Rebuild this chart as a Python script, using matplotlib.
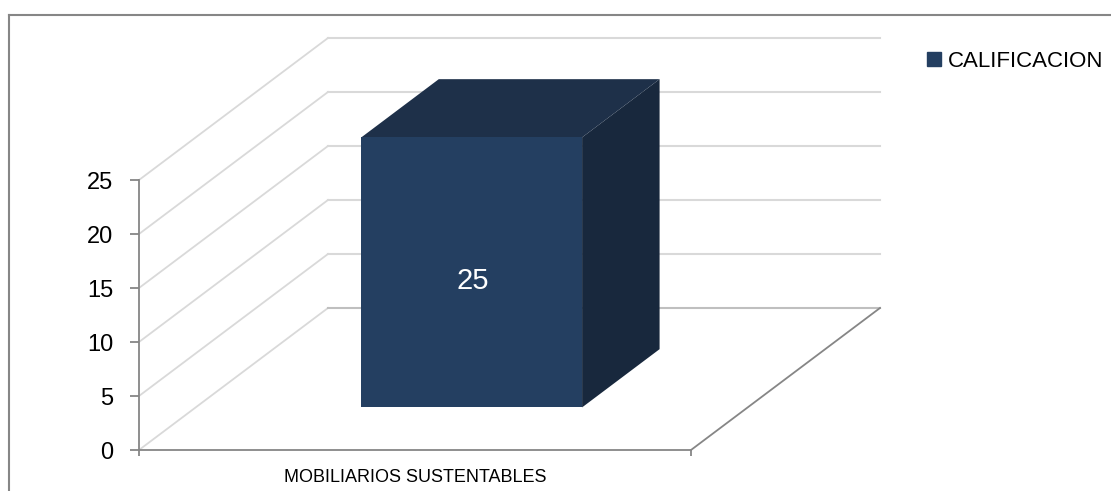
import matplotlib
matplotlib.use('Agg')
import matplotlib.pyplot as plt
from matplotlib.patches import Polygon, Patch
from matplotlib.lines import Line2D

# data
categories = ['MOBILIARIOS SUSTENTABLES']
series_name = 'CALIFICACION'
values = [25]
yticks = [0, 5, 10, 15, 20, 25]

plt.rcParams['font.family'] = ['Liberation Sans', 'DejaVu Sans']

# colours
c_front = '#243f61'
c_top = '#1e3049'
c_side = '#18283d'
c_grid = '#d9d9d9'
c_axis = '#868686'

# oblique depth offset (category units, value units)
DX, DY = 0.3424, 13.15
bar_d0, bar_d1 = 0.30, 0.71   # bar front/back depth fraction
bar_w = 0.4

fig = plt.figure(figsize=(11.11, 4.91), dpi=100)
ax = fig.add_axes([0, 0, 1, 1])
ax.set_xlim(-0.2518, 1.7609)
ax.set_ylim(-3.796, 41.667)

def P(x, v, d):
    return (x + d * DX, v + d * DY)

# back wall + side wall gridlines
top = max(yticks)
for v in yticks:
    col = c_grid if v > 0 else '#bfbfbf'
    ax.plot(*zip(P(0, v, 0), P(0, v, 1)), color=c_grid, lw=1.3, zorder=1)
    ax.plot(*zip(P(0, v, 1), P(1, v, 1)), color=col, lw=1.5, zorder=1)
# floor right edge
ax.plot(*zip(P(1, 0, 0), P(1, 0, 1)), color=c_axis, lw=1.3, zorder=1)

# bar
for i, val in enumerate(values):
    xc = i + 0.5
    x0, x1 = xc - bar_w / 2, xc + bar_w / 2
    front = [P(x0, 0, bar_d0), P(x1, 0, bar_d0), P(x1, val, bar_d0), P(x0, val, bar_d0)]
    side = [P(x1, 0, bar_d0), P(x1, 0, bar_d1), P(x1, val, bar_d1), P(x1, val, bar_d0)]
    topf = [P(x0, val, bar_d0), P(x1, val, bar_d0), P(x1, val, bar_d1), P(x0, val, bar_d1)]
    ax.add_patch(Polygon(side, closed=True, fc=c_side, ec='none', zorder=3))
    ax.add_patch(Polygon(topf, closed=True, fc=c_top, ec='none', zorder=3))
    ax.add_patch(Polygon(front, closed=True, fc=c_front, ec='none', zorder=4))
    lx, ly = P(xc, val / 2, bar_d0)
    ax.annotate(str(val), (lx, ly), xytext=(1, -6), textcoords='offset points',
                ha='center', va='center', color='white', fontsize=21, zorder=5)

# axes
for s in ['top', 'right']:
    ax.spines[s].set_visible(False)
ax.patch.set_visible(False)
ax.spines['left'].set_position(('data', 0))
ax.spines['bottom'].set_position(('data', 0))
ax.spines['left'].set_bounds(0, top)
ax.spines['bottom'].set_bounds(0, len(categories))
for s in ['left', 'bottom']:
    ax.spines[s].set_color(c_axis)
    ax.spines[s].set_linewidth(1.3)
    ax.spines[s].set_zorder(2)

ax.set_yticks(yticks)
ax.tick_params(axis='y', length=6.5, width=1.3, color=c_axis, pad=12,
               labelsize=17, labelcolor='black')
ax.set_xticks(range(len(categories) + 1))
ax.set_xticklabels([''] * (len(categories) + 1))
ax.tick_params(axis='x', length=4.5, width=1.3, color=c_axis)
ax.set_xticks([i + 0.5 for i in range(len(categories))], minor=True)
ax.set_xticklabels(categories, minor=True)
ax.tick_params(axis='x', which='minor', length=0, pad=14, labelsize=13)

# legend
fig.legend(handles=[Patch(color=c_front)], labels=[series_name],
           loc='upper left', bbox_to_anchor=(927 / 1111, 1 - 51 / 491),
           frameon=False, fontsize=16, handlelength=0.62, handleheight=0.62,
           handletextpad=0.3, borderpad=0, borderaxespad=0)

# outer chart border (runs past right/bottom edge)
fig.add_artist(Line2D([9 / 1111, 9 / 1111], [0, 1 - 15 / 491], color=c_axis, lw=1.5,
                      transform=fig.transFigure))
fig.add_artist(Line2D([9 / 1111, 1], [1 - 15 / 491, 1 - 15 / 491], color=c_axis, lw=1.5,
                      transform=fig.transFigure))

fig.savefig('out.png', dpi=100)
